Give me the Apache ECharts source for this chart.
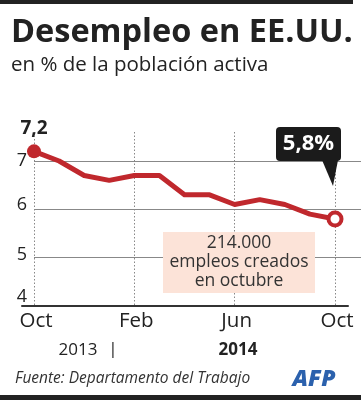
<!DOCTYPE html>
<html><head><meta charset="utf-8">
<script src="https://cdn.jsdelivr.net/npm/echarts@6/dist/echarts.min.js"></script>
<style>html,body{margin:0;padding:0;background:#fff}#c{width:361px;height:400px}</style>
</head><body><div id="c"></div>
<script>
var months = ['Oct','Nov','Dic','Ene','Feb','Mar','Abr','May','Jun','Jul','Ago','Sep','Oct'];
var unemployment = [7.2, 7.0, 6.7, 6.6, 6.7, 6.7, 6.3, 6.3, 6.1, 6.2, 6.1, 5.9, 5.8];
var xTickLabels = ['Oct', 'Feb', 'Jun', 'Oct'];
var yTicks = [4, 5, 6, 7];
var firstLabel = '7,2';
var lastLabel = '5,8%';
var noteLines = ['214.000', 'empleos creados', 'en octubre'];

var FONT = 'Open Sans';
var RED = '#c0282d';
var seriesData = unemployment.map(function (v, i) { return [i, v]; });
var n = months.length - 1;
seriesData[0] = { value: [0, unemployment[0]], symbol: 'circle', symbolSize: 14,
  itemStyle: { color: RED, borderWidth: 0 },
  label: { show: true, position: 'top', distance: 6, formatter: firstLabel,
    fontFamily: FONT, fontWeight: 'bold', fontSize: 19, color: '#222' } };
seriesData[n] = { value: [n, unemployment[n]], symbol: 'circle', symbolSize: 13,
  itemStyle: { color: '#fff', borderColor: RED, borderWidth: 4 } };

var labelStyleKey = { 4: 'd', 5: 'c', 6: 'b', 7: 'a' };
function yRich(pb) { return { fontFamily: FONT, fontSize: 18, color: '#222', padding: [0, 0, pb, 0] }; }

var chart = echarts.init(document.getElementById('c'), null, { renderer: 'canvas' });
var xMax = n * 327 / 301;
chart.setOption({
  animation: false,
  title: {
    text: 'Desempleo en EE.UU.', left: 11, top: 16, padding: 0,
    textStyle: { fontFamily: FONT, fontWeight: 'bold', fontSize: 32.5, color: '#222' },
    subtext: 'en % de la población activa', itemGap: 6,
    subtextStyle: { fontFamily: FONT, fontSize: 20.5, color: '#222' }
  },
  grid: [
    { left: 34, right: 0, top: 132, bottom: 94 },
    { left: 22, right: 13, top: 132, bottom: 94 }
  ],
  xAxis: [
    { type: 'value', gridIndex: 0, min: 0, max: xMax, interval: 4,
      axisLine: { show: false }, axisTick: { show: false },
      splitLine: { show: true, showMaxLine: false, lineStyle: { color: '#888', type: [1.5, 2], width: 1 } },
      axisLabel: { showMaxLabel: false, margin: 5, padding: [0, 0, 0, 4],
        fontFamily: FONT, fontSize: 20.5, color: '#222',
        formatter: function (v) { var k = Math.round(v / 4); return (v % 4 === 0 && xTickLabels[k]) ? xTickLabels[k] : ''; } } },
    { type: 'value', gridIndex: 1, min: 0, max: 1,
      axisLine: { show: true, lineStyle: { color: '#333', width: 2 } },
      axisTick: { show: false }, axisLabel: { show: false }, splitLine: { show: false } }
  ],
  yAxis: [
    { type: 'value', gridIndex: 0, min: yTicks[0], max: 7.6, interval: 1,
      axisLine: { show: false }, axisTick: { show: false },
      splitLine: { show: true, showMinLine: false, showMaxLine: false, lineStyle: { color: '#888', width: 1 } },
      axisLabel: { showMaxLabel: false, margin: 7,
        formatter: function (v) { return '{' + (labelStyleKey[v] || 'a') + '|' + v + '}'; },
        rich: { a: yRich(1), b: yRich(9), c: yRich(6), d: yRich(18) } } },
    { type: 'value', gridIndex: 1, min: 0, max: 1, show: false }
  ],
  series: [{
    type: 'line', xAxisIndex: 0, yAxisIndex: 0, data: seriesData,
    symbol: 'none', showSymbol: true, z: 5,
    lineStyle: { color: RED, width: 5, join: 'round' },
    itemStyle: { color: RED }
  }]
});

var P = chart.convertToPixel({ xAxisIndex: 0, yAxisIndex: 0 }, [n, unemployment[n]]);
chart.setOption({
  graphic: [
    { type: 'rect', shape: { x: 0, y: 0, width: 353, height: 4 }, style: { fill: '#222' } },
    { type: 'rect', shape: { x: 0, y: 395, width: 361, height: 5 }, style: { fill: '#222' } },
    { type: 'rect', shape: { x: P[0] - 59, y: P[1] - 92, width: 65, height: 34, r: 4 }, style: { fill: '#1b1b1b' }, z: 10 },
    { type: 'polygon', shape: { points: [[P[0] - 13, P[1] - 59], [P[0] + 3, P[1] - 59], [P[0] - 2, P[1] - 33]] }, style: { fill: '#1b1b1b' }, z: 10 },
    { type: 'text', x: P[0] - 26.5, y: P[1] - 75, z: 11,
      style: { text: lastLabel, fill: '#fff', fontFamily: FONT, fontWeight: 'bold', fontSize: 22, align: 'center', verticalAlign: 'middle' } },
    { type: 'rect', shape: { x: 163, y: 232, width: 152, height: 61 }, style: { fill: '#fce3d8' }, z: 8 },
    { type: 'text', x: 239, y: 262, z: 9,
      style: { text: noteLines.join('\n'), fill: '#333', fontFamily: FONT, fontSize: 17.5, lineHeight: 19, align: 'center', verticalAlign: 'middle' } },
    { type: 'text', x: 78, y: 350, style: { text: '2013', fill: '#222', fontFamily: FONT, fontSize: 17, align: 'center', verticalAlign: 'middle' } },
    { type: 'text', x: 113, y: 349, style: { text: '|', fill: '#222', fontFamily: FONT, fontSize: 17, align: 'center', verticalAlign: 'middle' } },
    { type: 'text', x: 238, y: 350, style: { text: '2014', fill: '#222', fontFamily: FONT, fontWeight: 'bold', fontSize: 17, align: 'center', verticalAlign: 'middle' } },
    { type: 'text', x: 15, y: 379, style: { text: 'Fuente: Departamento del Trabajo', fill: '#333', fontFamily: FONT, fontStyle: 'italic', fontSize: 15.5, align: 'left', verticalAlign: 'middle' } },
    { type: 'text', x: 314, y: 379, style: { text: 'AFP', fill: '#2b61ad', fontFamily: FONT, fontStyle: 'italic', fontWeight: 900, fontSize: 23, align: 'center', verticalAlign: 'middle' } }
  ]
});
</script></body></html>
